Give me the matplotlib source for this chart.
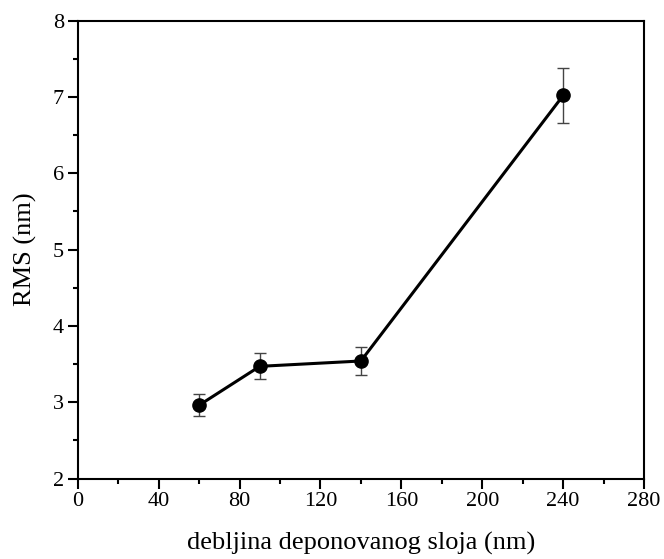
import matplotlib
matplotlib.use("Agg")
import matplotlib.pyplot as plt
from matplotlib.ticker import MultipleLocator

thickness = [60, 90, 140, 240]
rms = [2.96, 3.47, 3.54, 7.02]
rms_err = [0.146, 0.17, 0.18, 0.355]
x_ticks = [0, 40, 80, 120, 160, 200, 240, 280]
y_ticks = [2, 3, 4, 5, 6, 7, 8]

plt.rcParams['font.family'] = ['Liberation Serif', 'DejaVu Serif']

fig = plt.figure(figsize=(6.64, 5.59), dpi=100)
ax = fig.add_axes([0.117, 0.144, 0.853, 0.819])

ax.errorbar(thickness, rms, yerr=rms_err, fmt='none', ecolor='#444444',
            elinewidth=1.0, capsize=4, capthick=1.0, zorder=2)
ax.plot(thickness, rms, '-', color='black', lw=2.2, marker='o', ms=9.5,
        mfc='black', mec='black', zorder=3)

ax.set_xlim(0, 280)
ax.set_ylim(2, 8)
ax.set_xticks(x_ticks)
ax.set_yticks(y_ticks)
ax.xaxis.set_minor_locator(MultipleLocator(20))
ax.yaxis.set_minor_locator(MultipleLocator(0.5))
ax.tick_params(which='major', direction='out', length=7, width=1.5,
               labelsize=16, pad=3)
ax.tick_params(which='minor', direction='out', length=3.5, width=1.5)
ax.tick_params(top=False, right=False, which='both')
for s in ax.spines.values():
    s.set_linewidth(1.5)

ax.set_xlabel('debljina deponovanog sloja (nm)', fontsize=19, va='center')
ax.set_ylabel('RMS (nm)', fontsize=19, va='center')
ax.xaxis.set_label_coords(0.5, -0.141)
ax.yaxis.set_label_coords(-0.093, 0.5)

fig.savefig('out.png', dpi=100)
